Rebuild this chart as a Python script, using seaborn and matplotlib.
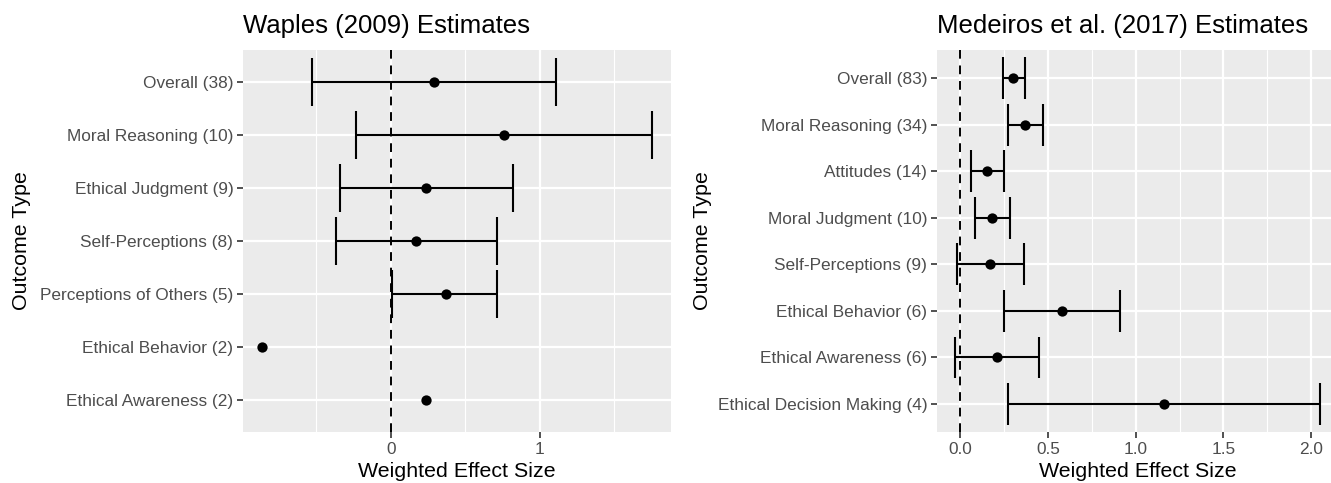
import numpy as np
import pandas as pd
import matplotlib
matplotlib.use("Agg")
import matplotlib.pyplot as plt
import seaborn as sns
from matplotlib.ticker import MultipleLocator, FormatStrFormatter

# Waples (2009)
waples_labels = ["Overall (38)", "Moral Reasoning (10)", "Ethical Judgment (9)",
                 "Self-Perceptions (8)", "Perceptions of Others (5)",
                 "Ethical Behavior (2)", "Ethical Awareness (2)"]
waples_est = [0.29, 0.76, 0.24, 0.17, 0.37, -0.86, 0.24]
waples_lo = [-0.53, -0.23, -0.34, -0.37, 0.01, np.nan, np.nan]
waples_hi = [1.11, 1.75, 0.82, 0.71, 0.71, np.nan, np.nan]

# Medeiros et al. (2017)
medeiros_labels = ["Overall (83)", "Moral Reasoning (34)", "Attitudes (14)",
                   "Moral Judgment (10)", "Self-Perceptions (9)",
                   "Ethical Behavior (6)", "Ethical Awareness (6)",
                   "Ethical Decision Making (4)"]
medeiros_est = [0.30, 0.37, 0.15, 0.18, 0.17, 0.58, 0.21, 1.16]
medeiros_lo = [0.24, 0.27, 0.06, 0.085, -0.02, 0.25, -0.03, 0.27]
medeiros_hi = [0.37, 0.47, 0.25, 0.28, 0.36, 0.91, 0.45, 2.05]

sns.set_theme(style="darkgrid")
plt.rcParams.update({
    "axes.facecolor": "#EBEBEB",
    "grid.color": "white",
    "xtick.color": "#333333",
    "ytick.color": "#333333",
    "xtick.labelcolor": "#4D4D4D",
    "ytick.labelcolor": "#4D4D4D",
})
plt.rcParams["font.family"] = ["Liberation Sans", "DejaVu Sans"]


def draw_panel(ax, labels, est, lo, hi, title, major, minor, fmt):
    n = len(labels)
    df = pd.DataFrame({"label": labels, "est": est, "lo": lo, "hi": hi})
    df["pos"] = n - 1 - np.arange(n)

    ax.axvline(0, color="black", lw=1.4, ls=(0, (4.5, 3.5)), zorder=2)
    bars = df.dropna()
    ax.hlines(bars["pos"], bars["lo"], bars["hi"], color="black", lw=1.5, zorder=3)
    ax.vlines(bars["lo"], bars["pos"] - 0.45, bars["pos"] + 0.45, color="black", lw=1.5, zorder=3)
    ax.vlines(bars["hi"], bars["pos"] - 0.45, bars["pos"] + 0.45, color="black", lw=1.5, zorder=3)
    sns.scatterplot(data=df, x="est", y="pos", color="black", s=55,
                    linewidth=0, ax=ax, zorder=4, legend=False)

    xmin = np.nanmin([df["lo"].min(), df["est"].min()])
    xmax = np.nanmax([df["hi"].max(), df["est"].max()])
    span = xmax - xmin
    ax.set_xlim(xmin - 0.05 * span, xmax + 0.05 * span)
    ax.set_ylim(-0.6, n - 0.4)

    ax.set_yticks(df["pos"])
    ax.set_yticklabels(df["label"])
    ax.xaxis.set_major_locator(MultipleLocator(major))
    ax.xaxis.set_minor_locator(MultipleLocator(minor))
    ax.xaxis.set_major_formatter(FormatStrFormatter(fmt))
    ax.grid(which="major", color="white", lw=1.6)
    ax.grid(which="minor", axis="x", color="white", lw=0.8)
    ax.tick_params(axis="both", which="major", length=4, width=1.2,
                   labelsize=12.4, pad=3, left=True, bottom=True)
    ax.tick_params(axis="both", which="minor", length=0)
    for s in ax.spines.values():
        s.set_visible(False)

    ax.set_title(title, loc="left", fontsize=18.5, pad=12, color="black")
    ax.set_xlabel("Weighted Effect Size", fontsize=15.4, labelpad=4, color="black")
    ax.set_ylabel("Outcome Type", fontsize=15.4, color="black")


fig = plt.figure(figsize=(13.31, 4.83), dpi=100)
W, H = 1331, 483
ax1 = fig.add_axes([243 / W, 1 - 432 / H, 428 / W, 382 / H])
ax2 = fig.add_axes([937 / W, 1 - 432 / H, 401 / W, 382 / H])

draw_panel(ax1, waples_labels, waples_est, waples_lo, waples_hi,
           "Waples (2009) Estimates", 1, 0.5, "%g")
draw_panel(ax2, medeiros_labels, medeiros_est, medeiros_lo, medeiros_hi,
           "Medeiros et al. (2017) Estimates", 0.5, 0.25, "%.1f")

ax1.yaxis.set_label_coords((31 - 243) / 428, 0.5)
ax2.yaxis.set_label_coords((712 - 937) / 401, 0.5)

fig.savefig("out.png", dpi=100)
